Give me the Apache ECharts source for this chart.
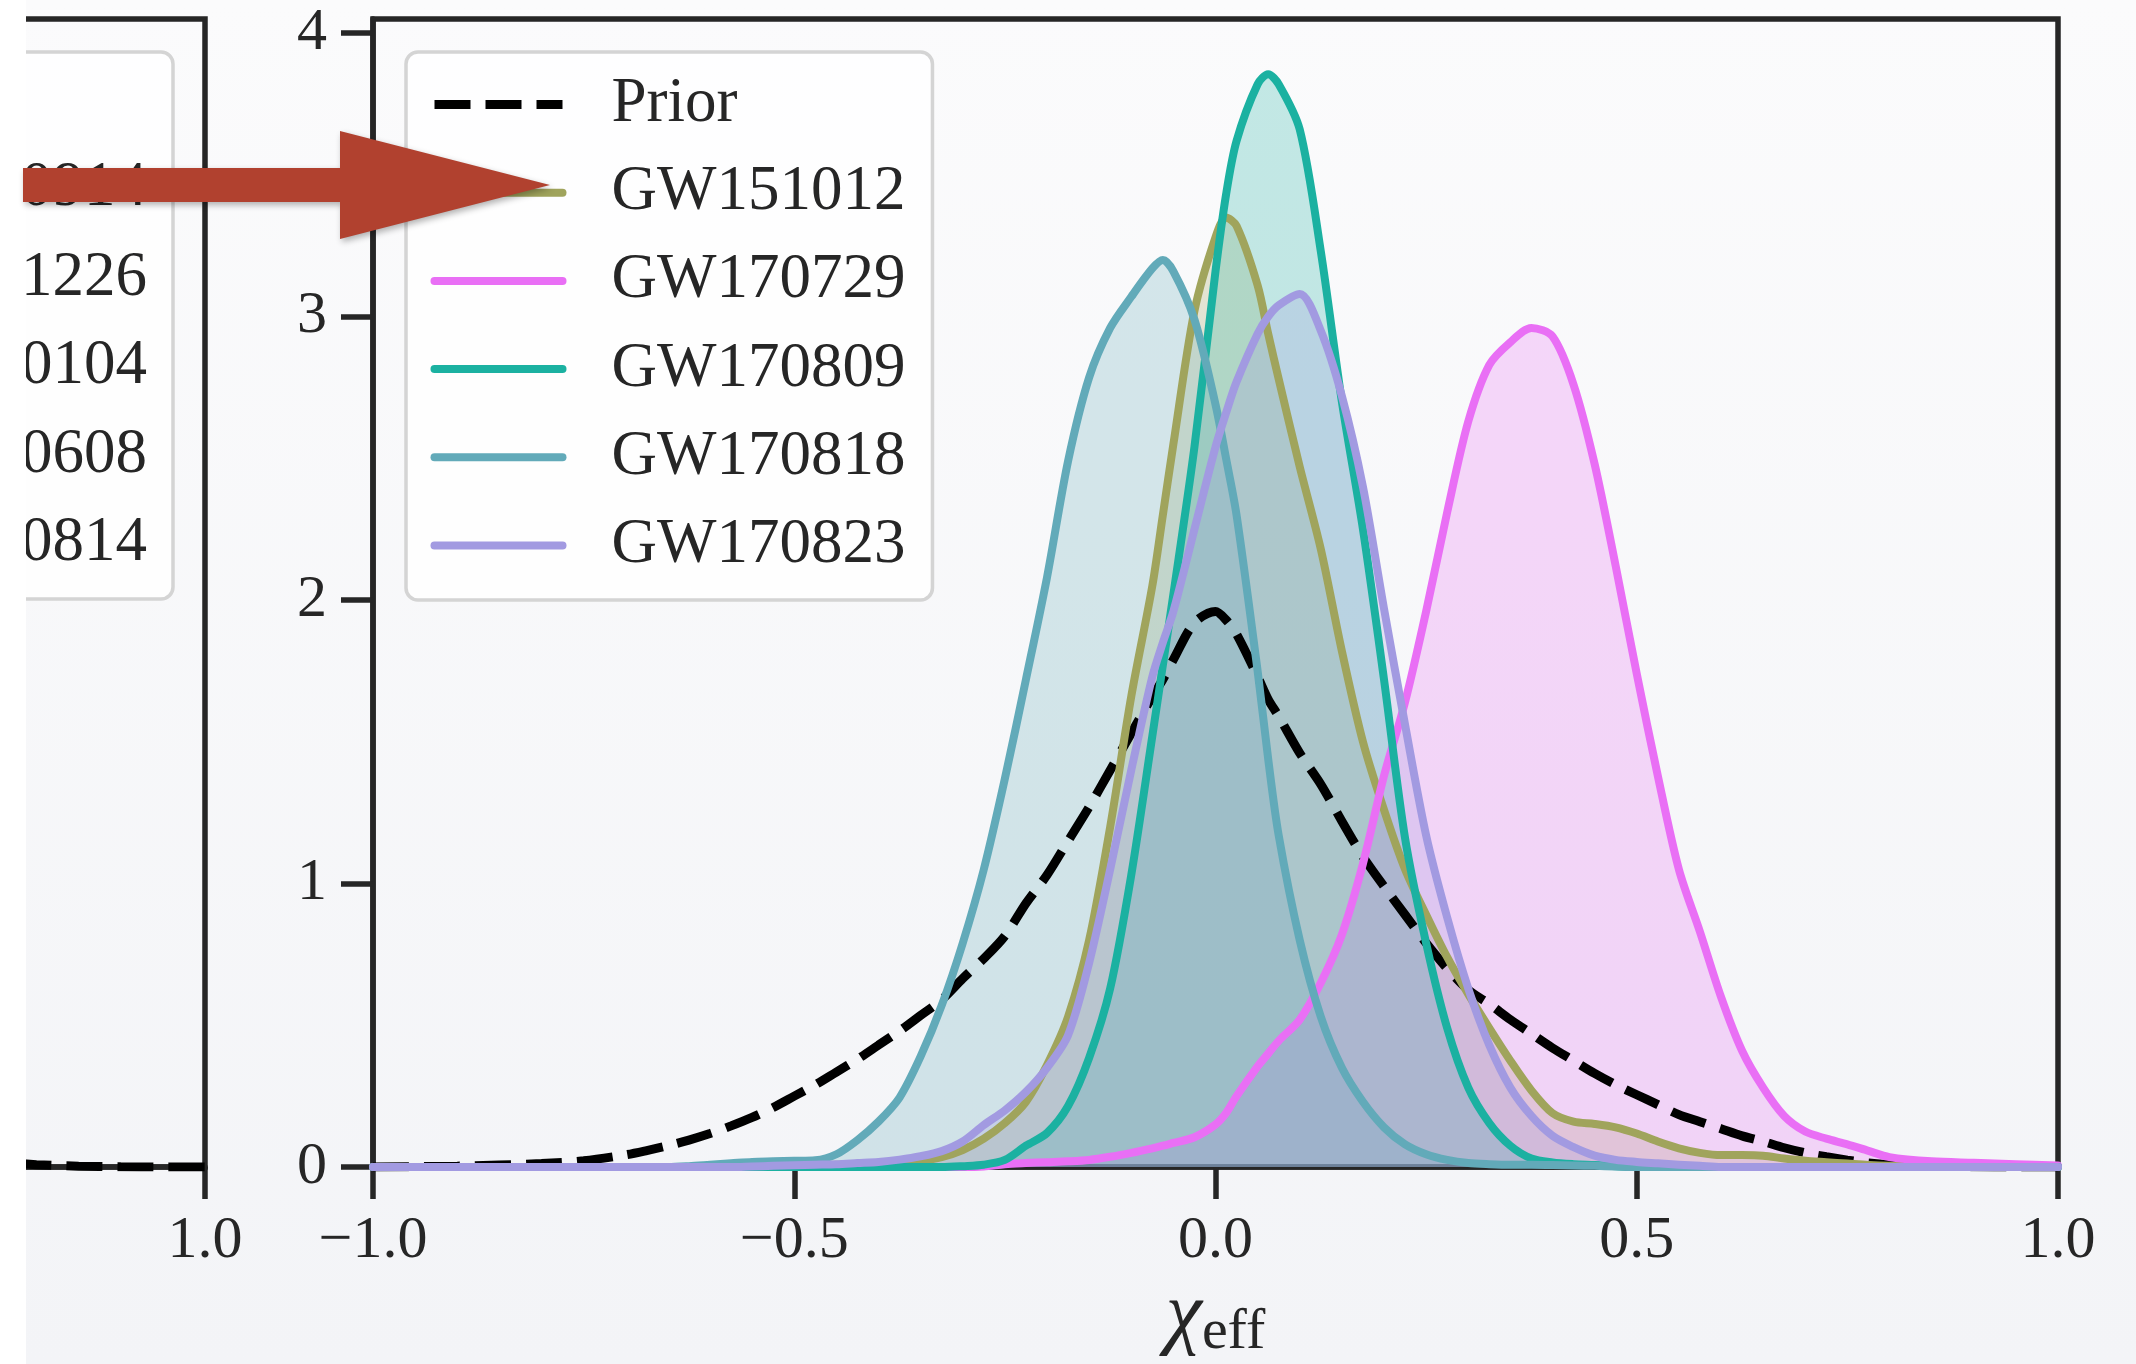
<!DOCTYPE html>
<html>
<head>
<meta charset="utf-8">
<title>chi_eff posteriors</title>
<script src="https://cdn.jsdelivr.net/npm/echarts@6/dist/echarts.min.js"></script>
<style>
  html, body { margin: 0; padding: 0; background: #fff; }
  #main { width: 2136px; height: 1364px; }
</style>
</head>
<body>
<div id="main"></div>
<script>
// chi_eff sample points shared by every curve
const chiGrid = [
  -1.0, -0.9, -0.8, -0.75, -0.7, -0.675, -0.65, -0.625, -0.6, -0.575,
  -0.55, -0.525, -0.5, -0.475, -0.45, -0.425, -0.4, -0.375, -0.35, -0.325,
  -0.3, -0.275, -0.25, -0.225, -0.2, -0.175, -0.15, -0.125, -0.1, -0.075,
  -0.0625, -0.05, -0.025, 0.0, 0.0125, 0.025, 0.05, 0.0625, 0.075, 0.1,
  0.125, 0.15, 0.175, 0.2, 0.225, 0.25, 0.275, 0.3, 0.325, 0.35,
  0.375, 0.4, 0.425, 0.45, 0.475, 0.5, 0.525, 0.55, 0.575, 0.6,
  0.625, 0.65, 0.675, 0.7, 0.725, 0.75, 0.775, 0.8, 0.85, 0.9,
  0.95, 1.0
]

// densities
const prior = [
  0.0, 0.003, 0.012, 0.022, 0.043, 0.058, 0.075, 0.095, 0.118, 0.145,
  0.175, 0.21, 0.25, 0.29, 0.335, 0.38, 0.43, 0.48, 0.535, 0.59,
  0.665, 0.735, 0.815, 0.93, 1.03, 1.15, 1.27, 1.40, 1.53, 1.66,
  1.72, 1.79, 1.92, 1.96, 1.93, 1.88, 1.73, 1.65, 1.59, 1.46,
  1.35, 1.22, 1.095, 0.99, 0.89, 0.79, 0.70, 0.625, 0.575, 0.52,
  0.47, 0.42, 0.375, 0.33, 0.29, 0.255, 0.22, 0.185, 0.16, 0.135,
  0.11, 0.09, 0.068, 0.05, 0.036, 0.024, 0.014, 0.008, 0.003, 0.001,
  0.0, 0.0
]
const gw151012 = [
  0, 0, 0, 0, 0, 0, 0, 0, 0.001, 0.002,
  0.003, 0.004, 0.005, 0.006, 0.008, 0.01, 0.012, 0.016, 0.022, 0.035,
  0.06, 0.10, 0.155, 0.23, 0.36, 0.53, 0.80, 1.20, 1.66, 2.05,
  2.30, 2.55, 3.02, 3.28, 3.35, 3.32, 3.11, 2.94, 2.78, 2.47,
  2.18, 1.82, 1.50, 1.26, 1.05, 0.89, 0.74, 0.61, 0.49, 0.375,
  0.27, 0.19, 0.16, 0.152, 0.14, 0.118, 0.09, 0.066, 0.05, 0.042,
  0.042, 0.04, 0.03, 0.022, 0.017, 0.012, 0.007, 0.004, 0.001, 0,
  0, 0
]
const gw170729 = [
  0, 0, 0, 0, 0, 0, 0, 0, 0, 0,
  0, 0, 0, 0, 0, 0, 0, 0, 0, 0,
  0, 0.002, 0.01, 0.014, 0.017, 0.02, 0.025, 0.036, 0.05, 0.066,
  0.075, 0.085, 0.105, 0.15, 0.19, 0.25, 0.355, 0.40, 0.445, 0.52,
  0.65, 0.82, 1.07, 1.38, 1.64, 1.96, 2.31, 2.63, 2.83, 2.91,
  2.96, 2.93, 2.76, 2.48, 2.12, 1.74, 1.38, 1.05, 0.83, 0.60,
  0.41, 0.28, 0.18, 0.125, 0.10, 0.08, 0.057, 0.035, 0.02, 0.015,
  0.01, 0.005
]
const gw170809 = [
  0, 0, 0, 0, 0, 0, 0, 0, 0, 0,
  0, 0, 0, 0, 0, 0, 0, 0, 0, 0,
  0.003, 0.008, 0.025, 0.075, 0.12, 0.215, 0.385, 0.63, 1.03, 1.52,
  1.77, 2.02, 2.54, 3.16, 3.43, 3.62, 3.82, 3.855, 3.82, 3.66,
  3.23, 2.70, 2.25, 1.72, 1.16, 0.79, 0.49, 0.28, 0.155, 0.075,
  0.03, 0.016, 0.01, 0.007, 0.003, 0, 0, 0, 0, 0,
  0, 0, 0, 0, 0, 0, 0, 0, 0, 0,
  0, 0
]
const gw170818 = [
  0, 0, 0, 0, 0, 0, 0, 0.003, 0.008, 0.013,
  0.018, 0.02, 0.022, 0.024, 0.045, 0.095, 0.16, 0.245, 0.39, 0.57,
  0.79, 1.05, 1.37, 1.72, 2.08, 2.49, 2.785, 2.96, 3.07, 3.17,
  3.20, 3.16, 2.99, 2.69, 2.50, 2.30, 1.75, 1.44, 1.17, 0.80,
  0.53, 0.35, 0.23, 0.14, 0.08, 0.045, 0.025, 0.014, 0.01, 0.008,
  0.008, 0.007, 0.005, 0.004, 0.002, 0, 0, 0, 0, 0,
  0, 0, 0, 0, 0, 0, 0, 0, 0, 0,
  0, 0
]
const gw170823 = [
  0, 0, 0, 0, 0, 0, 0, 0, 0, 0,
  0.002, 0.004, 0.006, 0.008, 0.01, 0.014, 0.018, 0.026, 0.038, 0.056,
  0.09, 0.148, 0.20, 0.265, 0.35, 0.465, 0.72, 1.05, 1.40, 1.73,
  1.85, 1.96, 2.25, 2.54, 2.66, 2.77, 2.94, 3.0, 3.04, 3.08,
  2.95, 2.72, 2.40, 1.97, 1.56, 1.17, 0.88, 0.63, 0.43, 0.28,
  0.18, 0.11, 0.07, 0.04, 0.025, 0.018, 0.013, 0.008, 0.004, 0,
  0, 0, 0, 0, 0, 0, 0, 0, 0, 0,
  0, 0
]

const xTicks = [-1, -0.5, 0, 0.5, 1]
const leftPanelXTicks = [1]
const yTicks = [0, 1, 2, 3, 4]
const legendNames = ['Prior', 'GW151012', 'GW170729', 'GW170809', 'GW170818', 'GW170823']
// legend of the neighbouring panel, only its right end is in view
const leftPanelNames = ['GW150914', 'GW151226', 'GW170104', 'GW170608', 'GW170814']

const FONT = '"Liberation Serif", "Times New Roman", serif'
const INK = '#262626'
const SPINE = 5.5

const events = [
  { name: 'GW151012', values: gw151012, color: '#a0a45c' },
  { name: 'GW170729', values: gw170729, color: '#e96ff5' },
  { name: 'GW170809', values: gw170809, color: '#1bb1a1' },
  { name: 'GW170818', values: gw170818, color: '#62aab9' },
  { name: 'GW170823', values: gw170823, color: '#a29ae1' }
]

const pairs = ys => chiGrid.map((x, i) => [x, ys[i]])
const fmtX = v => (v < 0 ? '\u2212' : '') + Math.abs(v).toFixed(1)

function xAxisFor(gridIndex, min, ticks) {
  return {
    gridIndex: gridIndex, type: 'value', min: min, max: 1,
    axisLine: { show: true, onZero: false, lineStyle: { color: INK, width: SPINE } },
    axisTick: { show: true, length: 32, customValues: ticks, lineStyle: { color: INK, width: SPINE } },
    axisLabel: { margin: 44, fontSize: 60, fontFamily: FONT, color: INK, customValues: ticks, formatter: fmtX },
    splitLine: { show: false }
  }
}

let mainX = xAxisFor(0, -1, xTicks)
mainX.name = '{a|\u03c7}{b|eff}'
mainX.nameLocation = 'middle'
mainX.nameGap = 70
mainX.nameTextStyle = {
  rich: {
    a: { fontFamily: FONT, fontStyle: 'italic', fontSize: 82, lineHeight: 90, color: INK },
    b: { fontFamily: FONT, fontSize: 58, lineHeight: 58, verticalAlign: 'bottom', color: INK }
  }
}
// neighbouring panel: same scale, only the part near chi = 1 fits on the page
let leftX = xAxisFor(1, 1 - 205 / 842.5, leftPanelXTicks)

const mainY = {
  gridIndex: 0, type: 'value', min: 0, max: 4.05,
  axisLine: { show: true, onZero: false, lineStyle: { color: INK, width: SPINE } },
  axisTick: { show: true, length: 32, customValues: yTicks, lineStyle: { color: INK, width: SPINE } },
  axisLabel: { margin: 46, fontSize: 60, fontFamily: FONT, color: INK, customValues: yTicks },
  splitLine: { show: false }
}
const leftY = {
  gridIndex: 1, type: 'value', min: 0, max: 4.05,
  axisLine: { show: false }, axisTick: { show: false }, axisLabel: { show: false }, splitLine: { show: false }
}

let series = []
// shaded areas first, all lines above them
events.forEach(e => {
  series.push({
    name: e.name + ' fill', type: 'line', data: pairs(e.values),
    symbol: 'none', smooth: 0.3, z: 1, silent: true,
    lineStyle: { opacity: 0, width: 0 },
    areaStyle: { color: e.color, opacity: 0.25 }
  })
})
series.push({
  name: 'Prior', type: 'line', data: pairs(prior), symbol: 'none', smooth: 0.3, z: 2,
  itemStyle: { color: '#000' },
  lineStyle: { color: '#000', width: 9, type: [36, 15], cap: 'butt' }
})
events.forEach(e => {
  series.push({
    name: e.name, type: 'line', data: pairs(e.values), symbol: 'none', smooth: 0.3, z: 2,
    itemStyle: { color: e.color },
    lineStyle: { color: e.color, width: 8, cap: 'round', join: 'round' }
  })
})
// prior of the neighbouring panel
series.push({
  name: 'Prior (left panel)', type: 'line', xAxisIndex: 1, yAxisIndex: 1,
  data: pairs(prior), symbol: 'none', smooth: 0.3, z: 2, silent: true,
  lineStyle: { color: '#000', width: 9, type: [36, 15], cap: 'butt' }
})

const rowY = [188, 278, 366, 455, 543]
let graphics = [
  {
    type: 'rect', z: 40,
    shape: { x: -60, y: 52, width: 233, height: 547, r: 12 },
    style: { fill: 'rgba(255,255,255,0.8)', stroke: '#d4d4d4', lineWidth: 3.5 }
  }
]
leftPanelNames.forEach((n, i) => {
  graphics.push({
    type: 'text', z: 41, x: 147, y: rowY[i],
    style: { text: n, fill: INK, font: '63px ' + FONT, textAlign: 'right', textVerticalAlign: 'middle' }
  })
})
// page edge
graphics.push({ type: 'rect', z: 50, shape: { x: 0, y: 0, width: 26, height: 1364 }, style: { fill: '#ffffff' } })
// red pointer onto GW151012
graphics.push({
  type: 'polygon', z: 60,
  shape: { points: [[23, 168], [340, 168], [340, 131], [550, 185], [340, 239], [340, 202], [23, 202]] },
  style: { fill: '#b1412f', shadowBlur: 6, shadowColor: 'rgba(0,0,0,0.3)', shadowOffsetX: 2, shadowOffsetY: 3 }
})

const chart = echarts.init(document.getElementById('main'))
chart.setOption({
  animation: false,
  backgroundColor: {
    type: 'linear', x: 0, y: 0, x2: 0, y2: 1,
    colorStops: [{ offset: 0, color: '#fbfbfc' }, { offset: 1, color: '#f3f4f7' }]
  },
  textStyle: { fontFamily: FONT },
  grid: [
    { left: 373, top: 19, width: 1685, height: 1148, outerBoundsMode: 'none', show: true, borderColor: INK, borderWidth: SPINE, backgroundColor: 'transparent' },
    { left: 0, top: 19, width: 205, height: 1148, outerBoundsMode: 'none', show: true, borderColor: INK, borderWidth: SPINE, backgroundColor: 'transparent' }
  ],
  xAxis: [mainX, leftX],
  yAxis: [mainY, leftY],
  legend: {
    data: legendNames,
    orient: 'vertical', left: 406, top: 52,
    itemWidth: 128, itemHeight: 20, itemGap: 25.2,
    padding: [21, 27, 23, 24],
    backgroundColor: 'rgba(255,255,255,0.8)',
    borderColor: '#d4d4d4', borderWidth: 3.5, borderRadius: 12,
    itemStyle: { opacity: 0 },
    lineStyle: { width: 'inherit' },
    formatter: n => '{n|' + n + '}',
    textStyle: {
      color: INK,
      rich: { n: { fontFamily: FONT, fontSize: 63, lineHeight: 70, color: INK, padding: [0, 0, 0, 44] } }
    }
  },
  graphic: graphics,
  series: series
})
window.addEventListener('resize', function () {
  chart.resize()
})
</script>
</body>
</html>
